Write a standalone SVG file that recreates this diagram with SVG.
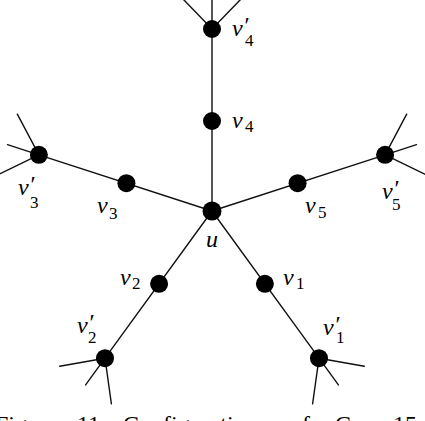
<svg xmlns="http://www.w3.org/2000/svg" width="425" height="421" viewBox="0 0 425 421">
<style>
.e{stroke:#111;stroke-width:1.4;fill:none;stroke-linecap:round}
.n{fill:#000}
.l{font-family:"Liberation Serif",serif;font-style:italic;font-size:24px;fill:#000}
.s{font-size:17px;font-style:normal}
.cap{font-family:"Liberation Serif",serif;font-size:24px;fill:#000}
</style>
<rect width="425" height="421" fill="#fff"/>
<g id="connectors">
<line class="e" x1="212" y1="211" x2="212" y2="29"/>
<line class="e" x1="212" y1="211" x2="385.1" y2="154.8"/>
<line class="e" x1="212" y1="211" x2="319" y2="358.2"/>
<line class="e" x1="212" y1="211" x2="105" y2="358.2"/>
<line class="e" x1="212" y1="211" x2="38.9" y2="154.8"/>
<path class="e" d="M212 29L180 -4.1M212 29L212 -4M212 29L244 -4.1"/>
<path class="e" d="M385.1 154.8L406.7 114.2M385.1 154.8L416.5 144.6M385.1 154.8L426.4 175"/>
<path class="e" d="M319 358.2L364.3 366.2M319 358.2L338.4 384.9M319 358.2L312.6 403.8"/>
<path class="e" d="M105 358.2L59.7 366.2M105 358.2L85.6 384.9M105 358.2L111.4 403.8"/>
<path class="e" d="M38.9 154.8L-2.4 175M38.9 154.8L7.5 144.6M38.9 154.8L17.3 114.2"/>
</g>
<g id="u"><circle class="n" cx="212" cy="211" r="9.5"/><text class="l" x="206" y="247">u</text></g>
<g id="v4"><circle class="n" cx="212" cy="121" r="9"/><text class="l" x="232" y="128">v<tspan class="s" x="245" y="132">4</tspan></text></g>
<g id="v4p"><circle class="n" cx="212" cy="29" r="9"/><text class="l" x="232" y="36">v<tspan x="243" y="33">′</tspan><tspan class="s" x="245" y="46">4</tspan></text></g>
<g id="v5"><circle class="n" cx="297.6" cy="183.2" r="9"/><text class="l" x="305" y="213">v<tspan class="s" x="318" y="218">5</tspan></text></g>
<g id="v5p"><circle class="n" cx="385.1" cy="154.8" r="9"/><text class="l" x="382" y="199">v<tspan x="393" y="196">′</tspan><tspan class="s" x="392" y="210">5</tspan></text></g>
<g id="v1"><circle class="n" cx="264.9" cy="283.8" r="9"/><text class="l" x="283" y="285">v<tspan class="s" x="296" y="289">1</tspan></text></g>
<g id="v1p"><circle class="n" cx="319" cy="358.2" r="9"/><text class="l" x="323" y="335">v<tspan x="334" y="332">′</tspan><tspan class="s" x="336" y="343">1</tspan></text></g>
<g id="v2"><circle class="n" cx="159.1" cy="283.8" r="9"/><text class="l" x="120" y="285">v<tspan class="s" x="132" y="289">2</tspan></text></g>
<g id="v2p"><circle class="n" cx="105" cy="358.2" r="9"/><text class="l" x="77" y="333">v<tspan x="88" y="330">′</tspan><tspan class="s" x="88" y="343">2</tspan></text></g>
<g id="v3"><circle class="n" cx="126.4" cy="183.2" r="9"/><text class="l" x="97" y="213">v<tspan class="s" x="109" y="219">3</tspan></text></g>
<g id="v3p"><circle class="n" cx="38.9" cy="154.8" r="9"/><text class="l" x="18" y="195">v<tspan x="29" y="192">′</tspan><tspan class="s" x="30" y="208">3</tspan></text></g>
<text class="cap" y="432"><tspan x="-5">Figure</tspan><tspan x="77">11:</tspan><tspan x="123">Configuration</tspan><tspan x="290">of</tspan><tspan x="335">Case</tspan><tspan x="393">15</tspan></text>
</svg>
